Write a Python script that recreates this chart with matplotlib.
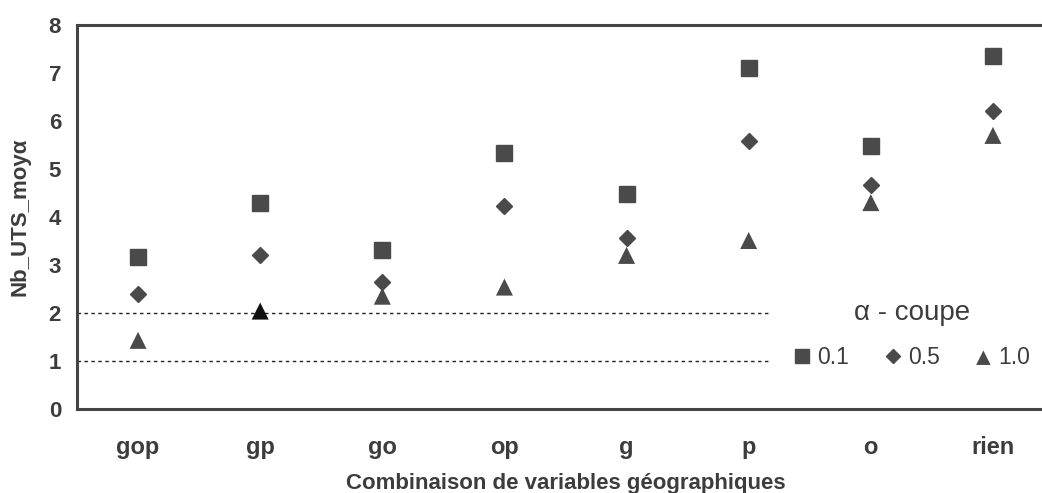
import matplotlib
matplotlib.use("Agg")
import matplotlib.pyplot as plt

categories = ["gop", "gp", "go", "op", "g", "p", "o", "rien"]
vals_01 = [3.16, 4.30, 3.31, 5.34, 4.47, 7.11, 5.47, 7.35]
vals_05 = [2.39, 3.20, 2.64, 4.22, 3.56, 5.59, 4.66, 6.21]
vals_10 = [1.43, 2.04, 2.35, 2.54, 3.20, 3.51, 4.30, 5.70]
ref_lines = [1, 2]
yticks = [0, 1, 2, 3, 4, 5, 6, 7, 8]
legend_labels = ["0.1", "0.5", "1.0"]

plt.rcParams['font.family'] = ['Liberation Sans', 'DejaVu Sans']

W, H = 1042, 493
fig = plt.figure(figsize=(W / 100, H / 100), dpi=100)
# axes extends a little past the right edge of the picture (right frame cut off)
ax = fig.add_axes([77 / W, (H - 409) / H, (1054 - 77) / W, (409 - 25) / H])

x = list(range(len(categories)))
gray = "#4a4a4a"
txt = "#3c3c3c"
for yv in ref_lines:
    ax.plot([-0.5, 5.18], [yv, yv], linestyle=(0, (2.5, 2.5)), color="#222222", lw=1.0, zorder=1)

h1, = ax.plot(x, vals_01, linestyle="none", marker="s", ms=11.5, color=gray, label="0.1", zorder=3)
h2, = ax.plot(x, vals_05, linestyle="none", marker="D", ms=8, color=gray, label="0.5", zorder=3)
tri_colors = [gray] * len(categories)
tri_colors[1] = "#111111"
h3 = ax.scatter(x, vals_10, marker="^", s=150, c=tri_colors, label="1.0", zorder=3, linewidths=0)

ax.set_xlim(-0.5, len(categories) - 0.5)
ax.set_ylim(0, 8)
ax.set_yticks(yticks)
ax.set_xticks(x)
ax.set_xticklabels(categories)
ax.tick_params(axis="both", length=0, colors=txt)
ax.tick_params(axis="y", pad=11.5, labelsize=16)
ax.tick_params(axis="x", pad=19.5, labelsize=17)
for lab in ax.get_xticklabels() + ax.get_yticklabels():
    lab.set_fontweight("bold")
for s in ax.spines.values():
    s.set_linewidth(2.2)
    s.set_color("#444444")

ax.set_xlabel("Combinaison de variables géographiques", fontsize=16, fontweight="bold",
              color=txt, labelpad=10)
ax.set_ylabel("Nb_UTS_moyα", fontsize=16, fontweight="bold", color=txt, labelpad=13)

leg = fig.legend(handles=[h1, h2, h3], labels=legend_labels, ncol=3, frameon=False,
                 loc="center", bbox_to_anchor=(0.875, 0.3215), fontsize=16.5,
                 title="α - coupe", title_fontsize=20, handletextpad=0.26,
                 columnspacing=1.5, handlelength=0.8, markerscale=0.85)
for t in leg.get_texts():
    t.set_color(txt)
leg.get_title().set_color(txt)
leg._legend_box.sep = 14

fig.savefig("out.png", dpi=100)
